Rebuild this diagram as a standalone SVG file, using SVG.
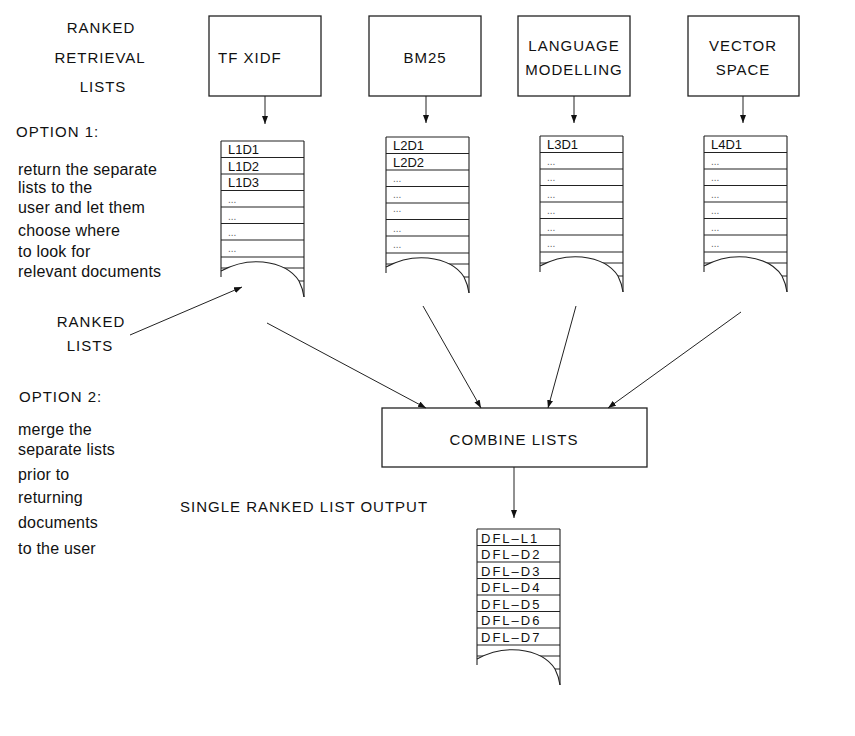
<svg xmlns="http://www.w3.org/2000/svg" xmlns:xlink="http://www.w3.org/1999/xlink" width="855" height="736" viewBox="0 0 855 736">
<style>
  text { font-family: "Liberation Sans", Arial, sans-serif; fill: #111; }
  .cap { font-size: 15px; letter-spacing: 1px; }
  .body { font-size: 16px; letter-spacing: 0.2px; }
  .item { font-size: 13px; }
  .dfl { font-size: 13px; letter-spacing: 2px; }
  .dots { font-size: 10px; fill: #666; }
  .box { fill: #fff; stroke: #222; stroke-width: 1.3; }
  .ln { stroke: #222; stroke-width: 1.1; fill: none; }
  .conn { stroke: #222; stroke-width: 1; fill: none; marker-end: url(#ah); }
</style>
<defs>
  <marker id="ah" markerUnits="userSpaceOnUse" markerWidth="9" markerHeight="7" refX="8" refY="3" orient="auto">
    <path d="M0,0 L8,3 L0,6 Z" fill="#111"/>
  </marker>
  <g id="listframe">
    <path class="ln" d="M0,0H83 M0,16.5H83 M0,33H83 M0,49.5H83 M0,66H83 M0,82.5H83 M0,99H83 M0,116H83 M0,127H83 M0,140H83"/>
    <path d="M0,130 Q20,119 42,121 Q68,124 78,140 Q82,148 83,156 L83,162 L0,162 Z" fill="#fff"/>
    <path class="ln" d="M0,0V136 M83,0V156"/>
    <path class="ln" d="M0,130 Q20,119 42,121 Q68,124 78,140 Q82,148 83,156"/>
  </g>
</defs>
<rect width="855" height="736" fill="#fff"/>

<g id="side-labels">
  <text class="cap" x="101" y="33" text-anchor="middle">RANKED</text>
  <text class="cap" x="100" y="63" text-anchor="middle">RETRIEVAL</text>
  <text class="cap" x="103" y="92" text-anchor="middle">LISTS</text>
  <text class="cap" x="16" y="137">OPTION 1:</text>
  <text class="body" x="18" y="175">return the separate</text>
  <text class="body" x="18" y="193">lists to the</text>
  <text class="body" x="18" y="213">user and let them</text>
  <text class="body" x="18" y="236">choose where</text>
  <text class="body" x="18" y="257">to look for</text>
  <text class="body" x="18" y="277">relevant documents</text>
  <text class="cap" x="91" y="327" text-anchor="middle">RANKED</text>
  <text class="cap" x="90" y="351" text-anchor="middle">LISTS</text>
  <text class="cap" x="19" y="402">OPTION 2:</text>
  <text class="body" x="18" y="435">merge the</text>
  <text class="body" x="18" y="455">separate lists</text>
  <text class="body" x="18" y="480">prior to</text>
  <text class="body" x="18" y="503">returning</text>
  <text class="body" x="18" y="528">documents</text>
  <text class="body" x="18" y="554">to the user</text>
  <text class="cap" x="180" y="512">SINGLE RANKED LIST OUTPUT</text>
</g>

<g id="tfxidf">
  <rect class="box" x="209" y="16" width="112" height="80"/>
  <text class="cap" x="218" y="63">TF XIDF</text>
</g>
<g id="bm25">
  <rect class="box" x="369" y="16" width="112" height="80"/>
  <text class="cap" x="425" y="63" text-anchor="middle">BM25</text>
</g>
<g id="language-modelling">
  <rect class="box" x="518" y="16" width="112" height="80"/>
  <text class="cap" x="574" y="51" text-anchor="middle">LANGUAGE</text>
  <text class="cap" x="574" y="75" text-anchor="middle">MODELLING</text>
</g>
<g id="vector-space">
  <rect class="box" x="688" y="16" width="111" height="80"/>
  <text class="cap" x="743" y="51" text-anchor="middle">VECTOR</text>
  <text class="cap" x="743" y="75" text-anchor="middle">SPACE</text>
</g>

<g id="list1" transform="translate(221,141)">
  <use xlink:href="#listframe"/>
  <text class="item" x="7" y="13">L1D1</text>
  <text class="item" x="7" y="29.5">L1D2</text>
  <text class="item" x="7" y="46">L1D3</text>
  <text class="dots" x="7" y="62">...</text>
  <text class="dots" x="7" y="78.5">...</text>
  <text class="dots" x="7" y="95">...</text>
  <text class="dots" x="7" y="111">...</text>
</g>
<g id="list2" transform="translate(386,137)">
  <use xlink:href="#listframe"/>
  <text class="item" x="7" y="13">L2D1</text>
  <text class="item" x="7" y="29.5">L2D2</text>
  <text class="dots" x="7" y="45">...</text>
  <text class="dots" x="7" y="61">...</text>
  <text class="dots" x="7" y="75">...</text>
  <text class="dots" x="7" y="95">...</text>
  <text class="dots" x="7" y="111">...</text>
</g>
<g id="list3" transform="translate(540,136)">
  <use xlink:href="#listframe"/>
  <text class="item" x="7" y="13">L3D1</text>
  <text class="dots" x="7" y="29">...</text>
  <text class="dots" x="7" y="45">...</text>
  <text class="dots" x="7" y="62">...</text>
  <text class="dots" x="7" y="78">...</text>
  <text class="dots" x="7" y="95">...</text>
  <text class="dots" x="7" y="111">...</text>
</g>
<g id="list4" transform="translate(704,136)">
  <use xlink:href="#listframe"/>
  <text class="item" x="7" y="13">L4D1</text>
  <text class="dots" x="7" y="29">...</text>
  <text class="dots" x="7" y="45">...</text>
  <text class="dots" x="7" y="62">...</text>
  <text class="dots" x="7" y="78">...</text>
  <text class="dots" x="7" y="95">...</text>
  <text class="dots" x="7" y="111">...</text>
</g>

<g id="combine-lists">
  <rect class="box" x="382" y="408" width="265" height="59"/>
  <text class="cap" x="514" y="445" text-anchor="middle">COMBINE LISTS</text>
</g>

<g id="output-list" transform="translate(477,529)">
  <use xlink:href="#listframe"/>
  <text class="dfl" x="4" y="13.5">DFL–L1</text>
  <text class="dfl" x="4" y="30">DFL–D2</text>
  <text class="dfl" x="4" y="46.5">DFL–D3</text>
  <text class="dfl" x="4" y="63">DFL–D4</text>
  <text class="dfl" x="4" y="79.5">DFL–D5</text>
  <text class="dfl" x="4" y="96">DFL–D6</text>
  <text class="dfl" x="4" y="112.5">DFL–D7</text>
</g>

<g id="connectors">
  <line class="conn" x1="265" y1="96" x2="265" y2="124"/>
  <line class="conn" x1="426" y1="96" x2="426" y2="123"/>
  <line class="conn" x1="574" y1="96" x2="574" y2="123"/>
  <line class="conn" x1="743" y1="96" x2="743" y2="123"/>
  <line class="conn" x1="130" y1="335" x2="242" y2="287"/>
  <line class="conn" x1="267" y1="323" x2="426" y2="408"/>
  <line class="conn" x1="423" y1="306" x2="481" y2="408"/>
  <line class="conn" x1="576" y1="306" x2="548" y2="408"/>
  <line class="conn" x1="741" y1="312" x2="608" y2="408"/>
  <line class="conn" x1="514" y1="467" x2="514" y2="518"/>
</g>
</svg>
